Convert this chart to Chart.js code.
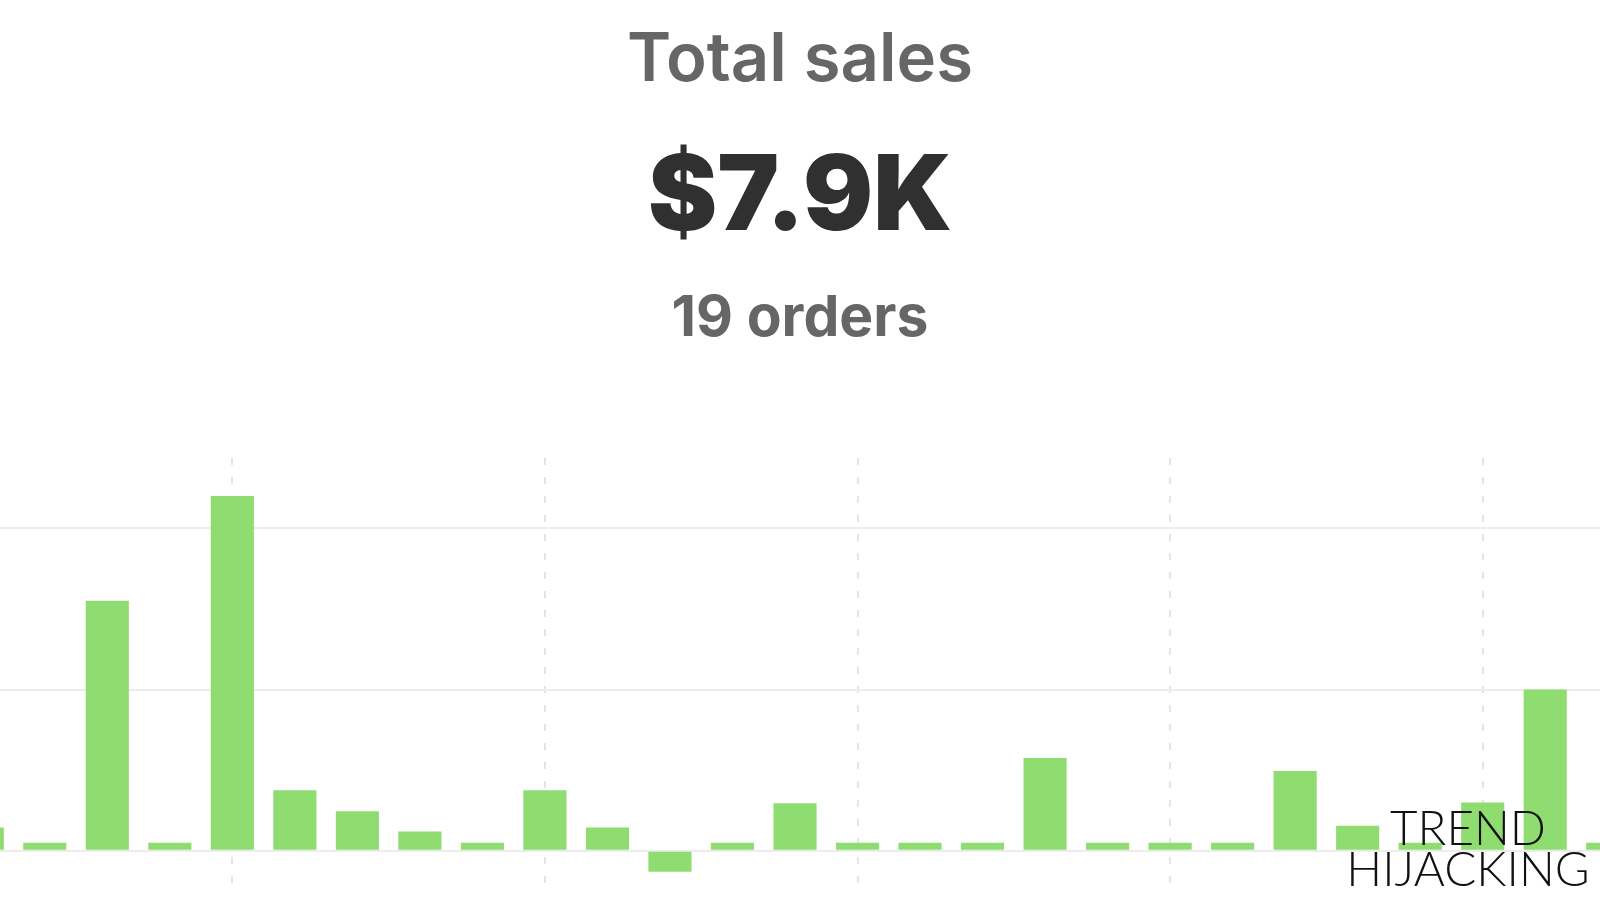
<!DOCTYPE html>
<html>
<head>
<meta charset="utf-8">
<script src="https://cdn.jsdelivr.net/npm/chart.js@4"></script>
<style>
  html, body { margin: 0; padding: 0; background: #fff; }
  body { width: 1600px; height: 899px; overflow: hidden; position: relative; font-family: Inter, "Noto Sans", sans-serif; }
  .head { position: absolute; left: 0; width: 1600px; text-align: center; white-space: nowrap; }
  #title { top: 16px; font-size: 67px; font-weight: 600; color: #666; line-height: 82px; }
  #total { top: 132px; font-size: 104px; font-weight: 900; color: #303030; line-height: 120px; }
  #orders { top: 283px; font-size: 57px; font-weight: 700; color: #666; line-height: 66px; }
  #wrap { position: absolute; left: -49px; top: 458px; width: 1688px; height: 435px; }
  #mark { position: absolute; left: 1340px; width: 256px; top: 806px; text-align: center;
          font-family: Lato, sans-serif; font-weight: 300; font-size: 47.5px; line-height: 41px; color: #111; }
</style>
</head>
<body>
<div class="head" id="title">Total sales</div>
<div class="head" id="total">$7.9K</div>
<div class="head" id="orders">19 orders</div>
<div id="wrap"><canvas id="chart" width="1688" height="435"></canvas></div>
<div id="mark">TREND<br>HIJACKING</div>
<script>
// daily sales in dollars (one gridline = $1000)
const days = ["1", "2", "3", "4", "5", "6", "7", "8", "9", "10", "11", "12", "13", "14",
  "15", "16", "17", "18", "19", "20", "21", "22", "23", "24", "25", "26", "27"];
const sales = [145, 50, 1550, 50, 2200, 375, 245, 120, 50, 375, 145, -130, 50, 295,
  50, 50, 50, 575, 50, 50, 50, 495, 155, 50, 300, 1000, 50];
const gridValues = [0, 1000, 2000];

const ctx = document.getElementById("chart").getContext("2d");
new Chart(ctx, {
  type: "bar",
  data: {
    labels: days,
    datasets: [{
      data: sales,
      backgroundColor: "#8fdc70",
      borderWidth: 0,
      categoryPercentage: 1,
      barPercentage: 0.69
    }]
  },
  options: {
    responsive: false,
    animation: false,
    layout: { padding: 0 },
    plugins: { legend: { display: false }, tooltip: { enabled: false } },
    scales: {
      x: {
        display: true,
        ticks: { display: false },
        border: { display: false, dash: [7, 12] },
        grid: {
          offset: false,
          drawTicks: false,
          lineWidth: 2,
          color: function (c) { return c.index % 5 === 4 ? "#e4e4e4" : "rgba(0,0,0,0)"; }
        }
      },
      y: {
        display: true,
        min: -262,
        max: 2436,
        ticks: { display: false, includeBounds: false },
        border: { display: false },
        grid: {
          drawTicks: false,
          lineWidth: 2,
          // only $0, $1K and $2K get a line
          color: function (c) { return gridValues.includes(c.tick.value) ? "#ececec" : "rgba(0,0,0,0)"; }
        }
      }
    }
  }
});
</script>
</body>
</html>
